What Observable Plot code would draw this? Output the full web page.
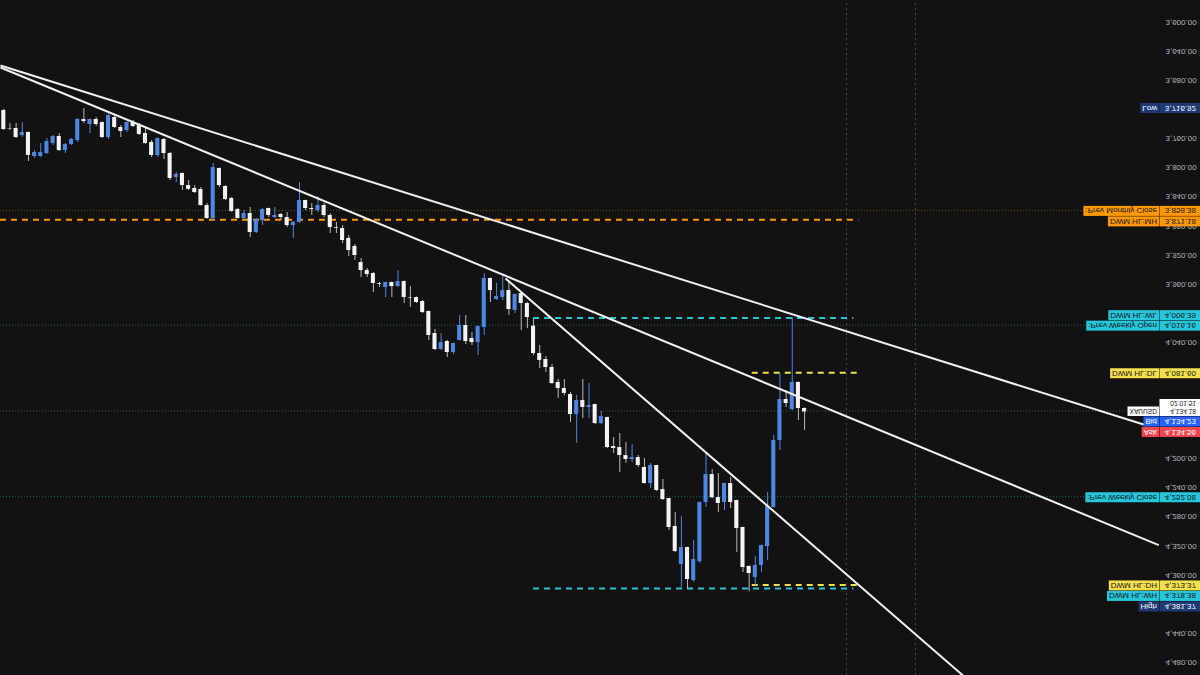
<!DOCTYPE html>
<html><head><meta charset="utf-8">
<script src="https://cdn.jsdelivr.net/npm/d3@7"></script>
<script src="https://cdn.jsdelivr.net/npm/@observablehq/plot@0.6"></script>
<style>html,body{margin:0;padding:0;background:#121212;overflow:hidden}</style>
</head><body><div id="chart"></div>
<script>
// ---- XAUUSD 4H candles (bar index = position) ----
const candleOpen = [3719.7,3744.4,3744.4,3754.0,3749.9,3782.9,3782.9,3778.8,3765.0,3755.4,3774.7,3766.4,3760.9,3732.0,3738.9,3732.0,3736.2,3756.8,3729.3,3743.0,3747.2,3736.2,3740.3,3751.3,3763.6,3781.5,3759.5,3778.8,3811.8,3806.3,3822.8,3826.9,3828.3,3850.3,3868.2,3799.4,3824.2,3840.7,3855.8,3868.2,3861.3,3887.4,3870.9,3854.4,3866.8,3862.6,3866.8,3877.8,3873.6,3843.4,3854.4,3857.2,3850.3,3864.0,3880.5,3881.9,3895.6,3906.6,3928.7,3939.7,3943.8,3957.5,3963.0,3956.2,3961.7,3954.8,3976.8,3976.8,3982.3,3996.0,4026.3,4048.3,4037.3,4052.4,4035.9,4015.3,4033.2,4038.7,4018.0,3950.6,3979.5,3976.8,3967.2,3994.6,3971.3,3985.0,4016.2,4053.8,4062.0,4073.0,4093.6,4101.9,4110.1,4137.6,4118.4,4128.0,4123.9,4150.0,4141.8,4181.6,4183.0,4194.0,4199.5,4196.8,4210.5,4232.5,4207.8,4240.8,4253.2,4291.6,4343.9,4320.5,4365.9,4340.0,4258.6,4220.2,4251.8,4258.6,4232.5,4255.9,4293.0,4346.6,4361.8,4345.3,4319.2,4265.5,4173.4,4117.0,4130.8,4093.6,4129.4];
const candleHigh = [3747.0,3747.2,3758.2,3756.8,3789.8,3785.6,3784.3,3780.2,3767.8,3776.0,3778.8,3767.8,3763.6,3737.5,3751.3,3741.7,3758.2,3759.5,3744.4,3756.8,3749.9,3743.0,3754.0,3766.4,3784.3,3784.3,3787.0,3815.9,3818.7,3829.6,3829.6,3833.8,3851.0,3869.0,3871.2,3825.5,3843.4,3859.9,3869.0,3869.0,3894.3,3888.8,3877.8,3866.8,3868.2,3870.9,3880.5,3895.6,3874.5,3857.2,3864.0,3859.9,3866.8,3888.8,3888.8,3902.5,3920.4,3925.9,3949.3,3949.3,3969.9,3963.0,3976.8,3976.8,3963.0,3985.0,3990.5,3985.0,3998.8,4035.9,4049.7,4049.7,4059.3,4055.2,4036.5,4041.4,4042.8,4056.5,4029.0,3983.7,3980.9,3980.9,4001.5,3998.8,4022.2,4019.4,4056.5,4074.4,4079.9,4096.4,4115.6,4111.5,4148.6,4177.5,4143.1,4143.1,4151.4,4151.4,4184.4,4191.3,4217.4,4205.0,4203.7,4210.5,4233.5,4239.4,4243.5,4255.9,4297.1,4327.4,4376.0,4378.4,4368.6,4342.5,4265.5,4253.2,4272.4,4269.6,4266.9,4327.4,4354.9,4381.4,4373.4,4354.9,4338.4,4266.0,4187.2,4128.0,4132.1,4145.9,4159.7];
const candleLow = [3718.0,3737.5,3737.5,3736.2,3749.0,3774.7,3765.0,3758.2,3754.0,3751.3,3765.0,3758.2,3730.7,3716.9,3731.5,3729.3,3735.5,3723.8,3726.5,3740.3,3735.5,3733.4,3737.5,3744.4,3760.9,3757.5,3758.2,3777.4,3804.9,3805.5,3815.9,3822.8,3825.5,3847.5,3792.5,3798.8,3822.8,3839.3,3854.4,3857.2,3853.0,3868.2,3854.4,3853.8,3853.0,3861.3,3859.9,3872.3,3818.7,3843.0,3847.5,3837.9,3847.5,3861.3,3873.6,3877.8,3891.5,3903.9,3923.2,3936.9,3942.4,3956.2,3955.5,3955.5,3939.7,3954.0,3961.7,3976.0,3980.9,3995.5,4020.8,4026.3,4035.9,4039.5,4001.5,4001.5,4024.9,4016.0,3943.8,3950.0,3957.5,3947.9,3953.4,3972.0,3970.5,3983.7,4006.4,4042.8,4057.9,4068.9,4089.5,4089.5,4107.4,4111.5,4089.5,4095.0,4123.5,4133.5,4141.3,4169.3,4163.8,4176.2,4178.9,4194.0,4198.2,4205.0,4207.5,4227.0,4253.0,4272.4,4277.9,4320.0,4310.9,4258.0,4189.9,4213.3,4218.8,4232.0,4224.3,4255.5,4292.5,4346.0,4332.9,4317.0,4244.9,4166.5,4081.6,4104.6,4004.4,4093.0,4128.5];
const candleClose = [3745.8,3745.0,3756.8,3749.9,3781.5,3777.4,3777.4,3762.3,3755.4,3774.7,3766.4,3759.5,3732.0,3734.8,3732.0,3738.9,3756.8,3726.5,3743.0,3748.5,3736.2,3741.7,3752.6,3765.0,3781.5,3758.2,3778.8,3813.2,3807.6,3822.8,3828.3,3832.4,3850.3,3868.2,3798.0,3822.8,3842.0,3858.4,3868.2,3861.3,3887.4,3869.5,3855.8,3864.0,3864.0,3866.8,3877.8,3873.6,3843.4,3854.4,3855.8,3850.3,3864.0,3880.5,3881.5,3898.4,3912.2,3919.0,3939.7,3945.2,3957.5,3958.5,3956.2,3961.7,3954.8,3976.8,3977.5,3983.7,3997.4,4029.0,4048.3,4038.7,4052.4,4040.0,4015.3,4037.3,4038.7,4016.6,3950.6,3967.2,3975.4,3967.2,3993.3,3972.6,3985.0,4004.3,4053.8,4063.4,4073.0,4095.0,4101.9,4108.8,4137.6,4118.4,4128.0,4125.3,4150.0,4140.4,4183.0,4184.4,4194.0,4199.5,4196.8,4207.8,4232.5,4207.8,4242.1,4254.5,4293.0,4326.0,4320.5,4364.5,4337.0,4258.6,4220.2,4252.1,4260.0,4232.5,4258.6,4294.4,4348.0,4356.3,4345.3,4317.8,4264.1,4173.4,4117.0,4122.5,4093.6,4129.4,4134.2];

// ---- price axis ticks ----
const yTickValues = [3600,3640,3680,3720,3760,3800,3840,3880,3920,3960,4000,4040,4080,4120,4160,4200,4240,4280,4320,4360,4400,4440,4480];

// ---- trend lines (bar index, price) ----
const trendStartBar = [-0.54, -0.54, 81.45];
const trendStartPrice = [3659.2, 3661.9, 3952.0];
const trendEndBar = [185.3, 187.5, 156.1];
const trendEndPrice = [4153.5, 4318.7, 4500.7];

// ---- DWM HL levels (dashed) ----
const levelKeys = ["monthly", "weekly", "weekly", "daily", "daily"];
const levelValues = [3871.18, 4006.39, 4378.38, 4081.60, 4373.37];
const levelStartBar = [-0.54, 86, 86, 121.5, 121.5];
const levelEndBar = [138.8, 138, 138, 138.8, 138.8];

// ---- reference (dotted) price lines ----
const refKeys = ["monthly", "weekly", "weekly", "last"];
const refValues = [3858.38, 4016.16, 4252.08, 4134.18];

// ---- time separators (bar index) ----
const sessionBreaks = [136.8, 148.0];

// ---- right-hand price labels (priority order) ----
const labelNames = ["XAUUSD", "Bid", "Ask", "Low", ":Prev Monthly Close", "DWM HL:MH", ":Prev Weekly Open", "DWM HL:WL", "DWM HL:DL", ":Prev Weekly Close", "DWM HL:DH", "DWM HL:WH", "High"];
const labelValues = [4134.18, 4134.23, 4134.56, 3716.92, 3858.38, 3871.18, 4016.16, 4006.39, 4081.60, 4252.08, 4373.37, 4378.38, 4381.37];
const labelKeys = ["last", "bid", "ask", "range", "monthly", "monthly", "weekly", "weekly", "daily", "weekly", "daily", "weekly", "range"];
const countdown = "02:01:51";

// ---- styles ----
const keyFill = {monthly: "#ff9800", weekly: "#26c6da", daily: "#f4e04d", range: "#1d3a75", last: "#ffffff", bid: "#2962ff", ask: "#f0444f"};
const keyText = {monthly: "#131722", weekly: "#131722", daily: "#131722", range: "#ffffff", last: "#131722", bid: "#ffffff", ask: "#ffffff"};
const refStroke = {monthly: "#ff9800", weekly: "#26c6da", last: "#9a9a9a"};
const upBody = "#f4f4f4", downBody = "#4d87e3", upWick = "#b8b8b8", downWick = "#4d87e3";
const FONT = "'Liberation Sans', Arial, sans-serif";

const bars = candleOpen.map((o, i) => ({i, o, h: candleHigh[i], l: candleLow[i], c: candleClose[i]}));
const isUp = d => d.c >= d.o;
const trends = trendStartBar.map((x, k) => ({x1: x, y1: trendStartPrice[k], x2: trendEndBar[k], y2: trendEndPrice[k]}));
const levels = levelValues.map((v, k) => ({v, key: levelKeys[k], x1: levelStartBar[k], x2: levelEndBar[k]}));
const refs = refValues.map((v, k) => ({v, key: refKeys[k]}));

const W = 1200, H = 675;
const chart = Plot.plot({
  width: W, height: H,
  marginLeft: 0, marginRight: 40, marginTop: 0, marginBottom: 0,
  x: {domain: [-0.536, 187.78], axis: null},
  y: {domain: [3568.4, 4496.5]},
  style: {background: "#121212", fontFamily: FONT, color: "#b2b5be"},
  marks: [
    Plot.ruleX(sessionBreaks, {x: d => d, stroke: "#4a4a4a", strokeDasharray: "2,3", strokeWidth: 1}),
    Plot.ruleY(refs, {y: "v", stroke: d => refStroke[d.key], strokeOpacity: 0.45, strokeDasharray: "1,2", strokeWidth: 1}),
    Plot.ruleY(levels, {y: "v", x1: "x1", x2: "x2", stroke: d => keyFill[d.key], strokeDasharray: "6,5", strokeWidth: 2}),
    Plot.ruleX(bars, {x: "i", y1: "l", y2: "h", stroke: d => isUp(d) ? upWick : downWick, strokeWidth: 1}),
    Plot.rect(bars, {x1: d => d.i - 0.33, x2: d => d.i + 0.33, y1: d => Math.min(d.o, d.c), y2: d => Math.max(d.o, d.c), fill: d => isUp(d) ? upBody : downBody}),
    Plot.link(trends, {x1: "x1", y1: "y1", x2: "x2", y2: "y2", stroke: "#f0f0f0", strokeWidth: 2}),
    Plot.axisY(yTickValues, {anchor: "right", tickSize: 0, tickPadding: 5, fontSize: 8, fill: "#b2b5be", tickFormat: d3.format(",.2f")})
  ]
});
chart.style.transform = "scaleY(-1)";
chart.style.display = "block";
document.getElementById("chart").append(chart);

// remember the axis tick texts before labels are added
const tickTexts = Array.from(chart.querySelectorAll("text"));

// ---- price labels, laid out in screen space, drawn in (flipped) svg space ----
const yS = chart.scale("y");
const svg = d3.select(chart);
const g = svg.append("g").attr("font-family", FONT).attr("font-size", 8);
const placed = [];
const gap = 0.5;
function place(d, a, b) {
  const fits = c => placed.every(([t, bt]) => c + b <= t - gap + 1e-6 || c - a >= bt + gap - 1e-6);
  const cands = [d];
  placed.forEach(([t, bt]) => { cands.push(bt + gap + a, t - gap - b); });
  // prefer moving down (screen) over moving up
  const cost = c => (c < d ? 2 : 1) * Math.abs(c - d);
  cands.sort((p, q) => cost(p) - cost(q));
  const c = cands.find(fits);
  placed.push([c - a, c + b]);
  return c;
}
const axisEdge = W - 40; // frame right
labelNames.forEach((name, k) => {
  const key = labelKeys[k];
  const d = H - yS.apply(labelValues[k]);
  const isLast = key === "last";
  const a = isLast ? 12.5 : 5, b = isLast ? 4.5 : 5;
  const c = place(d, a, b);
  const fs = isLast ? 6.6 : 8;
  // value box
  g.append("rect").attr("x", axisEdge - 0.5).attr("width", W - axisEdge + 0.5)
    .attr("y", H - (c + b)).attr("height", a + b).attr("fill", keyFill[key]);
  g.append("text").attr("x", W - 4).attr("y", H - c).attr("text-anchor", "end").attr("font-size", fs)
    .attr("dominant-baseline", "central").attr("fill", keyText[key])
    .text(d3.format(",.2f")(labelValues[k]));
  if (isLast) {
    g.append("text").attr("x", W - 4).attr("y", H - (c - 8.4)).attr("text-anchor", "end").attr("font-size", fs)
      .attr("dominant-baseline", "central").attr("fill", keyText[key]).text(countdown);
  }
  // name box
  const t = g.append("text").attr("x", axisEdge - 3).attr("y", H - c).attr("text-anchor", "end").attr("font-size", fs)
    .attr("dominant-baseline", "central").attr("fill", keyText[key]).text(name);
  const tw = t.node().getComputedTextLength();
  const na = isLast ? 5 : a;
  g.insert("rect", () => t.node()).attr("x", axisEdge - 1 - tw - 4).attr("width", tw + 4)
    .attr("y", H - (c + b)).attr("height", na + b).attr("fill", keyFill[key]);
});

// drop axis tick labels whose centre sits under a price label box
tickTexts.forEach(node => {
  const r = node.getBoundingClientRect();
  const cy = r.top + r.height / 2;
  if (placed.some(([t, bt]) => t <= cy - 1.5 && cy + 1.5 <= bt)) node.remove();
});
</script></body></html>
